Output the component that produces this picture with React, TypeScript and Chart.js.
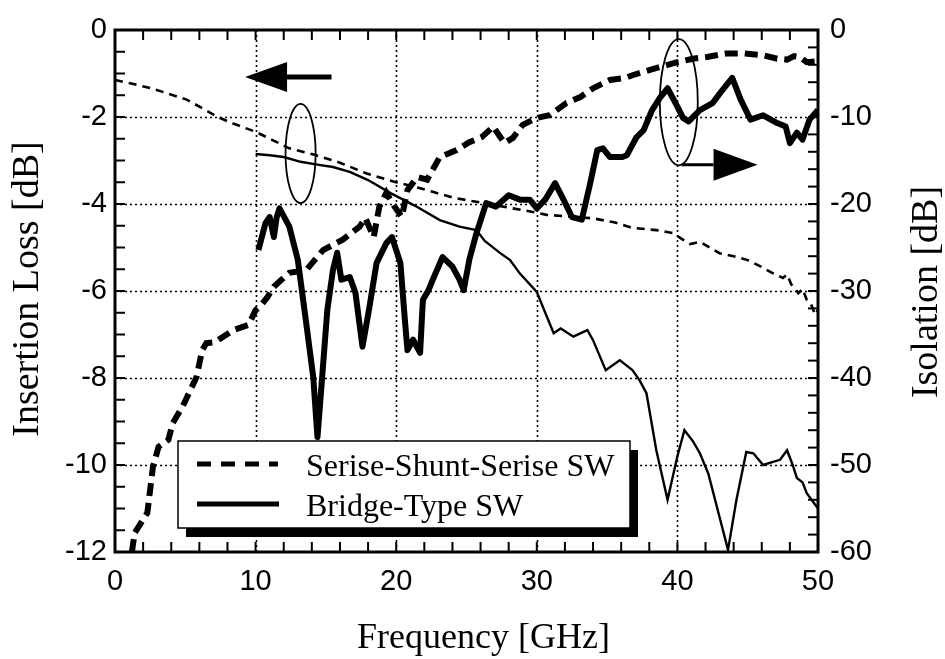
import React, { useEffect, useRef } from "react";
import { Chart, registerables } from "chart.js";

Chart.register(...registerables);

// ---- Axis ticks ----
const freqTicks = [0, 10, 20, 30, 40, 50];
const lossTicks = [-12, -10, -8, -6, -4, -2, 0];
const isoTicks = [-60, -50, -40, -30, -20, -10, 0];

// ---- Serise-Shunt-Serise SW : insertion loss (left axis, dB) ----
const sssLossFreq = [0, 1, 2.6, 5.1, 6.5, 7.3, 8.4, 10, 11.2, 12.4, 14.2, 16, 17.9, 19.8, 20, 21.5, 22.6, 24, 25.7, 28.3, 30, 30.7, 32, 34, 35.5, 36.8, 38.5, 39.7, 40.3, 40.9, 41.6, 43, 44, 45, 46, 46.6, 47.5, 47.8, 48.1, 48.4, 48.6, 48.9, 49.2, 49.5, 49.8, 50];
const sssLoss = [-1.15, -1.22, -1.34, -1.6, -1.85, -2.0, -2.15, -2.34, -2.53, -2.72, -2.87, -3.05, -3.3, -3.48, -3.5, -3.62, -3.72, -3.85, -3.95, -4.1, -4.2, -4.25, -4.28, -4.33, -4.42, -4.55, -4.6, -4.67, -4.8, -4.92, -4.87, -5.13, -5.2, -5.29, -5.45, -5.56, -5.7, -5.62, -5.85, -5.95, -6.05, -5.95, -6.2, -6.3, -6.55, -6.44];

// ---- Bridge-Type SW : insertion loss (left axis, dB) ----
const bridgeLossFreq = [10, 11, 12, 13.2, 14.5, 15.5, 16.7, 18, 19.6, 20.5, 21.5, 23.1, 24.5, 25.7, 26.3, 27.4, 28.1, 28.8, 30, 30.6, 31.2, 31.7, 32.6, 33.6, 34, 34.9, 35.9, 36.8, 37.3, 37.8, 38.5, 39.3, 40, 40.5, 41.1, 41.6, 42.2, 43, 43.6, 44.2, 44.9, 45.4, 46.1, 46.8, 47.3, 47.8, 48.2, 48.5, 48.9, 49.2, 50];
const bridgeLoss = [-2.85, -2.88, -2.92, -3.03, -3.1, -3.15, -3.26, -3.45, -3.75, -3.9, -4.07, -4.37, -4.52, -4.6, -4.85, -5.13, -5.29, -5.6, -6.02, -6.5, -6.97, -6.86, -7.05, -6.9, -7.13, -7.82, -7.59, -7.82, -8.05, -8.35, -9.66, -10.8, -9.8, -9.2, -9.45, -9.73, -10.2, -11.2, -11.95, -10.8, -9.7, -9.73, -10.0, -9.93, -9.88, -9.66, -10.0, -10.3, -10.4, -10.65, -11.0];

// ---- Serise-Shunt-Serise SW : isolation (right axis, dB) ----
const sssIsoFreq = [1.2, 1.4, 2.3, 2.7, 3.1, 3.8, 4.1, 4.8, 5.8, 6.2, 6.5, 7.1, 8.4, 9.5, 10, 10.3, 10.8, 11.3, 12.4, 13.6, 14.8, 16.2, 17.4, 17.8, 18.4, 18.8, 19.3, 19.8, 20.4, 20.8, 21.5, 22.2, 23.1, 24.3, 25.2, 26.1, 26.9, 27.4, 27.7, 28.3, 29, 30, 30.9, 32.1, 33.1, 34, 35.2, 36.3, 36.8, 38, 39.3, 40, 41.1, 42.1, 43.5, 44.7, 46.1, 47.1, 47.8, 48.3, 48.7, 49.2, 50];
const sssIso = [-60, -57.8, -55.5, -50.2, -47.9, -47.1, -45.2, -43.3, -39.9, -36.8, -36, -35.9, -34.5, -33.9, -32.2, -31.8, -30.8, -29.5, -27.9, -27.6, -25.3, -24.1, -22.6, -21.6, -23.8, -20.3, -18.7, -20.1, -21.5, -18.4, -16.9, -17.2, -14.6, -13.8, -12.9, -12.3, -11.1, -12.3, -13, -12.4, -10.9, -10.1, -9.8, -8.4, -7.7, -6.7, -5.75, -5.5, -5.2, -4.6, -4.0, -3.7, -3.3, -3.1, -2.7, -2.7, -2.9, -3.3, -3.4, -3.0, -3.1, -3.7, -3.6];

// ---- Bridge-Type SW : isolation (right axis, dB) ----
const bridgeIsoFreq = [10.2, 10.7, 11, 11.3, 11.5, 11.7, 12.4, 13, 13.6, 14.1, 14.4, 14.7, 15.1, 15.5, 15.8, 16.1, 16.7, 17.1, 17.6, 18.1, 18.6, 19.3, 19.7, 20.3, 20.6, 20.8, 21.2, 21.7, 21.9, 22.3, 22.6, 23.3, 24, 24.5, 24.8, 25.2, 25.7, 26.4, 27.1, 28, 28.8, 29.5, 30, 30.6, 31.3, 31.9, 32.5, 33.2, 33.8, 34.3, 34.7, 35.2, 36.1, 36.4, 37.1, 37.6, 38.2, 38.8, 39.3, 40, 40.4, 40.8, 41.6, 42.5, 43.2, 43.9, 44.5, 45.2, 46.1, 47.1, 47.7, 48, 48.5, 48.9, 49.4, 50];
const bridgeIso = [-25.3, -22.2, -21.5, -23.8, -21.5, -20.5, -22.6, -26.4, -33.7, -39.9, -46.8, -40.6, -32.2, -27.6, -25.6, -28.7, -28.4, -30.2, -36.4, -31.8, -26.8, -24.5, -23.8, -26.8, -33, -36.8, -35.6, -37.1, -31, -29.9, -28.7, -26.1, -27.2, -28.7, -29.9, -26.4, -23.4, -19.9, -20.3, -19, -19.5, -19.5, -20.5, -19.5, -17.6, -19.5, -21.5, -21.8, -17.6, -13.8, -13.6, -14.6, -14.6, -14.4, -12.3, -11.5, -9.2, -7.7, -6.7, -8.8, -10.1, -10.5, -9.2, -8.4, -6.9, -5.5, -8, -10.3, -9.8, -10.7, -11.1, -13, -11.8, -12.6, -10.3, -9.2];

const legendLabels = ["Serise-Shunt-Serise SW", "Bridge-Type SW"];

const pts = (xs: number[], ys: number[]) => xs.map((x, i) => ({ x, y: ys[i] }));

const SANS = '"Liberation Sans", Arial, Helvetica, sans-serif';
const SERIF = '"Liberation Serif", "Times New Roman", Times, serif';

const decorPlugin = {
  id: "decor",
  beforeDatasetsDraw(chart: any) {
    const { ctx, chartArea: a, scales } = chart;
    const xs = scales.x, ys = scales.y;
    ctx.save();
    ctx.strokeStyle = "#000";
    ctx.lineWidth = 1.6;
    ctx.setLineDash([2, 3]);
    freqTicks.forEach((v) => {
      if (v <= xs.min || v >= xs.max) return;
      const p = Math.round(xs.getPixelForValue(v)) + 0.5;
      ctx.beginPath(); ctx.moveTo(p, a.top); ctx.lineTo(p, a.bottom); ctx.stroke();
    });
    lossTicks.forEach((v) => {
      if (v <= ys.min || v >= ys.max) return;
      const p = Math.round(ys.getPixelForValue(v)) + 0.5;
      ctx.beginPath(); ctx.moveTo(a.left, p); ctx.lineTo(a.right, p); ctx.stroke();
    });
    ctx.restore();
  },
  afterDatasetsDraw(chart: any) {
    const { ctx, chartArea: a, scales } = chart;
    const xs = scales.x, ys = scales.y, y2 = scales.y2;
    ctx.save();
    ctx.strokeStyle = "#000";
    ctx.fillStyle = "#000";
    ctx.setLineDash([]);
    // minor & major tick marks, pointing inward
    ctx.lineWidth = 2;
    const tl = 10;
    for (let v = xs.min; v <= xs.max + 1e-9; v += 2) {
      const p = xs.getPixelForValue(v);
      ctx.beginPath(); ctx.moveTo(p, a.bottom); ctx.lineTo(p, a.bottom - tl); ctx.stroke();
      ctx.beginPath(); ctx.moveTo(p, a.top); ctx.lineTo(p, a.top + tl); ctx.stroke();
    }
    for (let v = ys.min; v <= ys.max + 1e-9; v += 0.5) {
      const p = ys.getPixelForValue(v);
      ctx.beginPath(); ctx.moveTo(a.left, p); ctx.lineTo(a.left + tl, p); ctx.stroke();
    }
    for (let v = y2.min; v <= y2.max + 1e-9; v += 2) {
      const p = y2.getPixelForValue(v);
      ctx.beginPath(); ctx.moveTo(a.right, p); ctx.lineTo(a.right - tl, p); ctx.stroke();
    }
    // frame
    ctx.lineWidth = 3;
    ctx.strokeRect(a.left, a.top, a.right - a.left, a.bottom - a.top);

    // annotation arrows
    const arrow = (x0: number, x1: number, y: number, hw: number, headLen: number, shaft: number) => {
      const dir = Math.sign(x1 - x0);
      ctx.lineWidth = shaft;
      ctx.beginPath(); ctx.moveTo(x0, y); ctx.lineTo(x1 - dir * headLen, y); ctx.stroke();
      ctx.beginPath();
      ctx.moveTo(x1, y);
      ctx.lineTo(x1 - dir * headLen, y - hw);
      ctx.lineTo(x1 - dir * headLen, y + hw);
      ctx.closePath(); ctx.fill();
    };
    arrow(xs.getPixelForValue(15.4), xs.getPixelForValue(9.25), ys.getPixelForValue(-1.08), 15, 42, 5);
    arrow(xs.getPixelForValue(40.3), xs.getPixelForValue(45.7), y2.getPixelForValue(-15.5), 16, 44, 3);

    // annotation ellipses
    ctx.lineWidth = 1.8;
    const ell = (cx: number, cy: number, rx: number, ry: number) => {
      ctx.beginPath(); ctx.ellipse(cx, cy, rx, ry, 0, 0, Math.PI * 2); ctx.stroke();
    };
    {
      const cx = xs.getPixelForValue(13.2), cy = ys.getPixelForValue(-2.84);
      ell(cx, cy, Math.abs(xs.getPixelForValue(14.27) - cx), Math.abs(ys.getPixelForValue(-1.7) - cy));
    }
    {
      const cx = xs.getPixelForValue(40.1), cy = y2.getPixelForValue(-8.3);
      ell(cx, cy, Math.abs(xs.getPixelForValue(41.45) - cx), Math.abs(y2.getPixelForValue(-1.05) - cy));
    }

    // legend box with drop shadow
    const lx = a.left + 63, ly = a.top + 411, lw = 452, lh = 87;
    ctx.fillRect(lx + 8, ly + 9, lw, lh);
    ctx.fillStyle = "#fff";
    ctx.fillRect(lx, ly, lw, lh);
    ctx.lineWidth = 1.5;
    ctx.strokeRect(lx, ly, lw, lh);
    ctx.fillStyle = "#000";
    ctx.lineWidth = 5;
    ctx.setLineDash([14, 10]);
    ctx.beginPath(); ctx.moveTo(lx + 19, ly + 23); ctx.lineTo(lx + 100, ly + 23); ctx.stroke();
    ctx.setLineDash([]);
    ctx.beginPath(); ctx.moveTo(lx + 19, ly + 63); ctx.lineTo(lx + 101, ly + 63); ctx.stroke();
    ctx.font = `32px ${SERIF}`;
    ctx.textAlign = "left";
    ctx.textBaseline = "alphabetic";
    ctx.fillText(legendLabels[0], lx + 128, ly + 35);
    ctx.fillText(legendLabels[1], lx + 128, ly + 75);

    // axis titles
    ctx.font = `36px ${SERIF}`;
    ctx.textAlign = "center";
    ctx.fillText("Frequency [GHz]", (a.left + a.right) / 2 + 17, 648);
    const midY = (a.top + a.bottom) / 2;
    ctx.font = `38px ${SERIF}`;
    ctx.save();
    ctx.translate(38, midY - 2);
    ctx.rotate(-Math.PI / 2);
    ctx.fillText("Insertion Loss [dB]", 0, 0);
    ctx.restore();
    ctx.save();
    ctx.translate(937, midY + 1);
    ctx.rotate(-Math.PI / 2);
    ctx.fillText("Isolation [dB]", 0, 0);
    ctx.restore();
    ctx.restore();
  },
};

export default function App() {
  const ref = useRef<HTMLCanvasElement | null>(null);
  useEffect(() => {
    if (!ref.current) return;
    const tickFont = { family: SANS, size: 29 };
    const chart = new Chart(ref.current, {
      type: "line",
      data: {
        datasets: [
          {
            label: "SSS loss",
            data: pts(sssLossFreq, sssLoss),
            yAxisID: "y",
            borderColor: "#000",
            borderWidth: 2.6,
            borderDash: [8, 6],
            pointRadius: 0,
            tension: 0,
          },
          {
            label: "Bridge loss",
            data: pts(bridgeLossFreq, bridgeLoss),
            yAxisID: "y",
            borderColor: "#000",
            borderWidth: 2.4,
            pointRadius: 0,
            tension: 0,
          },
          {
            label: "SSS isolation",
            data: pts(sssIsoFreq, sssIso),
            yAxisID: "y2",
            borderColor: "#000",
            borderWidth: 6,
            borderDash: [13, 7],
            pointRadius: 0,
            tension: 0,
          },
          {
            label: "Bridge isolation",
            data: pts(bridgeIsoFreq, bridgeIso),
            yAxisID: "y2",
            borderColor: "#000",
            borderWidth: 6,
            borderJoinStyle: "round",
            pointRadius: 0,
            tension: 0,
          },
        ],
      },
      options: {
        animation: false,
        responsive: false,
        devicePixelRatio: 1,
        layout: { padding: { top: 30, left: 0, right: 0, bottom: 0 } },
        plugins: { legend: { display: false }, tooltip: { enabled: false } },
        scales: {
          x: {
            type: "linear",
            min: 0,
            max: 50,
            afterBuildTicks: (s: any) => { s.ticks = freqTicks.map((v) => ({ value: v })); },
            afterFit: (s: any) => { s.height = 107; },
            ticks: { color: "#000", font: tickFont, padding: 13, maxRotation: 0 },
            grid: { display: false, drawTicks: false },
            border: { display: false },
          },
          y: {
            type: "linear",
            position: "left",
            min: -12,
            max: 0,
            afterBuildTicks: (s: any) => { s.ticks = lossTicks.map((v) => ({ value: v })); },
            afterFit: (s: any) => { s.width = 115; },
            ticks: { color: "#000", font: tickFont, padding: 8 },
            grid: { display: false, drawTicks: false },
            border: { display: false },
          },
          y2: {
            type: "linear",
            position: "right",
            min: -60,
            max: 0,
            afterBuildTicks: (s: any) => { s.ticks = isoTicks.map((v) => ({ value: v })); },
            afterFit: (s: any) => { s.width = 127; },
            ticks: { color: "#000", font: tickFont, padding: 12 },
            grid: { display: false, drawTicks: false },
            border: { display: false },
          },
        },
      },
      plugins: [decorPlugin],
    } as any);
    return () => chart.destroy();
  }, []);
  return (
    <div style={{ position: "absolute", left: 0, top: 0, width: 945, height: 659, background: "#fff" }}>
      <canvas ref={ref} width={945} height={659} style={{ display: "block", width: 945, height: 659 }} />
    </div>
  );
}
